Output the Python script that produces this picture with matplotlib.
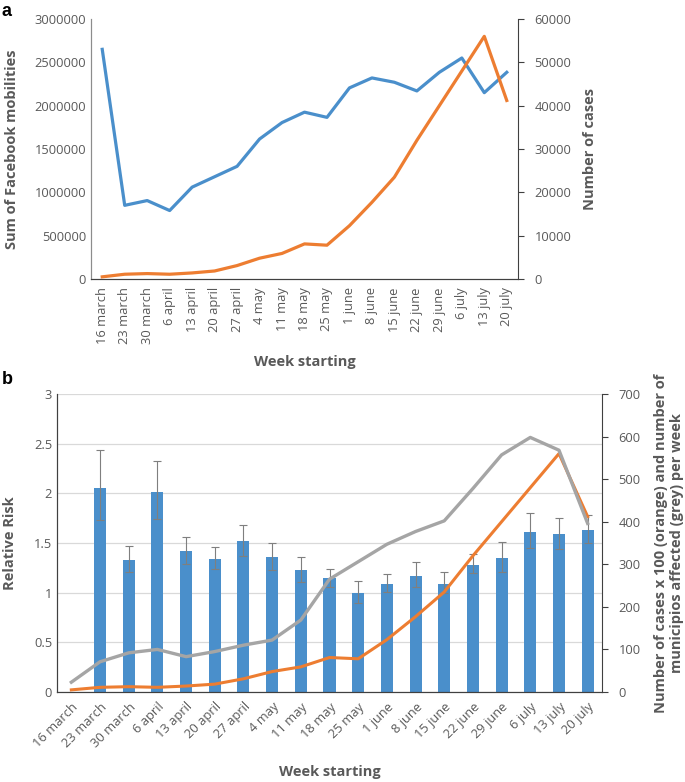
import numpy as np
import matplotlib.pyplot as plt
from matplotlib.ticker import StrMethodFormatter

plt.rcParams['font.family'] = ['Open Sans', 'DejaVu Sans']

# Data
weeks = ['16 march', '23 march', '30 march', '6 april', '13 april', '20 april',
         '27 april', '4 may', '11 may', '18 may', '25 may', '1 june', '8 june',
         '15 june', '22 june', '29 june', '6 july', '13 july', '20 july']

fb_mobilities = [2650000, 850000, 905000, 790000, 1060000, 1180000, 1300000,
                 1615000, 1805000, 1925000, 1865000, 2205000, 2320000, 2270000,
                 2170000, 2385000, 2550000, 2150000, 2385000]

cases = [500, 1100, 1250, 1100, 1400, 1850, 3100, 4800, 5900, 8100, 7800,
         12300, 17700, 23500, 32000, 40000, 48000, 56000, 41200]

municipios = [23, 71, 92, 100, 83, 95, 110, 122, 169, 265, 306, 347, 377,
              402, 478, 557, 598, 568, 396]

# relative risk per week (no estimate for the first week)
rr_weeks = weeks[1:]
rr = [2.05, 1.33, 2.01, 1.42, 1.34, 1.52, 1.36, 1.23, 1.15, 1.0, 1.09, 1.17,
      1.09, 1.28, 1.35, 1.61, 1.59, 1.63]
rr_upper = [2.44, 1.47, 2.33, 1.56, 1.46, 1.68, 1.50, 1.36, 1.24, 1.12, 1.19,
            1.31, 1.21, 1.39, 1.51, 1.80, 1.75, 1.78]
rr_lower = [1.73, 1.21, 1.74, 1.29, 1.24, 1.37, 1.23, 1.11, 1.06, 0.90, 1.01,
            1.06, 1.00, 1.20, 1.21, 1.45, 1.44, 1.50]

blue = '#4a8fcb'
orange = '#ed7d31'
grey = '#a5a5a5'
txt = '#595959'

W, H = 685, 782
fig = plt.figure(figsize=(W / 100, H / 100), dpi=100)


def box(l, t, r, b):
    return [l / W, 1 - b / H, (r - l) / W, (b - t) / H]


def ftext(x, y, s, **kw):
    fig.text(x / W, 1 - y / H, s, **kw)


x = np.arange(len(weeks))
title_kw = dict(fontsize=10.5, fontweight='bold', color=txt)

# ---- panel a ----
ax1 = fig.add_axes(box(91, 19, 518, 279))
ax1.plot(x, fb_mobilities, color=blue, lw=2.3, solid_joinstyle='round')
ax1.set_xlim(-0.5, len(weeks) - 0.5)
ax1.set_ylim(0, 3000000)
ax1.set_yticks(np.arange(0, 3000001, 500000))
ax1.yaxis.set_major_formatter(StrMethodFormatter('{x:.0f}'))
ax1.set_xticks(x)
ax1.set_xticklabels(weeks, rotation=90)
ax1.tick_params(axis='both', colors=txt, labelsize=9.3, length=0)
ax1.tick_params(axis='x', pad=6)

ax1r = ax1.twinx()
ax1r.plot(x, cases, color=orange, lw=2.3, solid_joinstyle='round')
ax1r.set_ylim(0, 60000)
ax1r.set_yticks(np.arange(0, 60001, 10000))
ax1r.tick_params(axis='y', colors=txt, labelsize=9.3, length=4, width=0.8,
                 direction='out', pad=8)
ax1r.tick_params(axis='y', color='#404040')

for a in (ax1, ax1r):
    a.spines['top'].set_visible(False)
    a.spines['left'].set_color('#8c8c8c')
    a.spines['bottom'].set_color('#404040')
    a.spines['right'].set_color('#404040')
    a.spines['right'].set_visible(a is ax1r)

ftext(12, 149, 'Sum of Facebook mobilities', rotation=90, ha='center', va='center', **title_kw)
ftext(590, 149, 'Number of cases', rotation=90, ha='center', va='center', **title_kw)
ftext(305, 362, 'Week starting', ha='center', va='center', **title_kw)
ftext(2, 12, 'a', fontsize=13, fontweight='bold', ha='left', va='center', family='Liberation Sans')

# ---- panel b ----
ax2 = fig.add_axes(box(57, 394, 602, 692))
rr_x = np.arange(1, len(weeks))
ax2.bar(rr_x, rr, width=0.42, color=blue, zorder=2)
err = [np.array(rr) - np.array(rr_lower), np.array(rr_upper) - np.array(rr)]
ax2.errorbar(rr_x, rr, yerr=err, fmt='none', ecolor='#7f7f7f', elinewidth=0.8,
             capsize=3, capthick=0.8, zorder=3)
ax2.set_xlim(-0.5, len(weeks) - 0.5)
ax2.set_ylim(0, 3)
ax2.set_yticks(np.arange(0, 3.01, 0.5))
ax2.set_yticklabels(['0', '0.5', '1', '1.5', '2', '2.5', '3'])
ax2.grid(axis='y', color='#d9d9d9', lw=0.9, zorder=0)
ax2.set_axisbelow(True)
ax2.set_xticks(x)
ax2.set_xticklabels(weeks, rotation=45, ha='right', rotation_mode='anchor')
ax2.tick_params(axis='both', colors=txt, labelsize=9.3, length=0)
ax2.tick_params(axis='x', pad=6)

ax2r = ax2.twinx()
ax2r.plot(x, np.array(cases) / 100, color=orange, lw=2.2, solid_joinstyle='round')
ax2r.plot(x, municipios, color=grey, lw=2.4, solid_joinstyle='round')
ax2r.set_ylim(0, 700)
ax2r.set_yticks(np.arange(0, 701, 100))
ax2r.tick_params(axis='y', colors=txt, labelsize=9.3, length=4, width=0.8,
                 direction='out', pad=8)
ax2r.tick_params(axis='y', color='#404040')

for a in (ax2, ax2r):
    a.spines['top'].set_visible(False)
    a.spines['left'].set_color('#404040')
    a.spines['bottom'].set_color('#404040')
    a.spines['right'].set_color('#404040')
    a.spines['right'].set_visible(a is ax2r)

ftext(10, 543, 'Relative Risk', rotation=90, ha='center', va='center', **title_kw)
ftext(669, 543, 'Number of cases x 100 (orange) and number of\nmunicipios affected (grey) per week',
      rotation=90, ha='center', va='center', linespacing=1.25, multialignment='center', **title_kw)
ftext(330, 772, 'Week starting', ha='center', va='center', **title_kw)
ftext(2, 380, 'b', fontsize=13, fontweight='bold', ha='left', va='center', family='Liberation Sans')

fig.savefig('out.png', dpi=100)
